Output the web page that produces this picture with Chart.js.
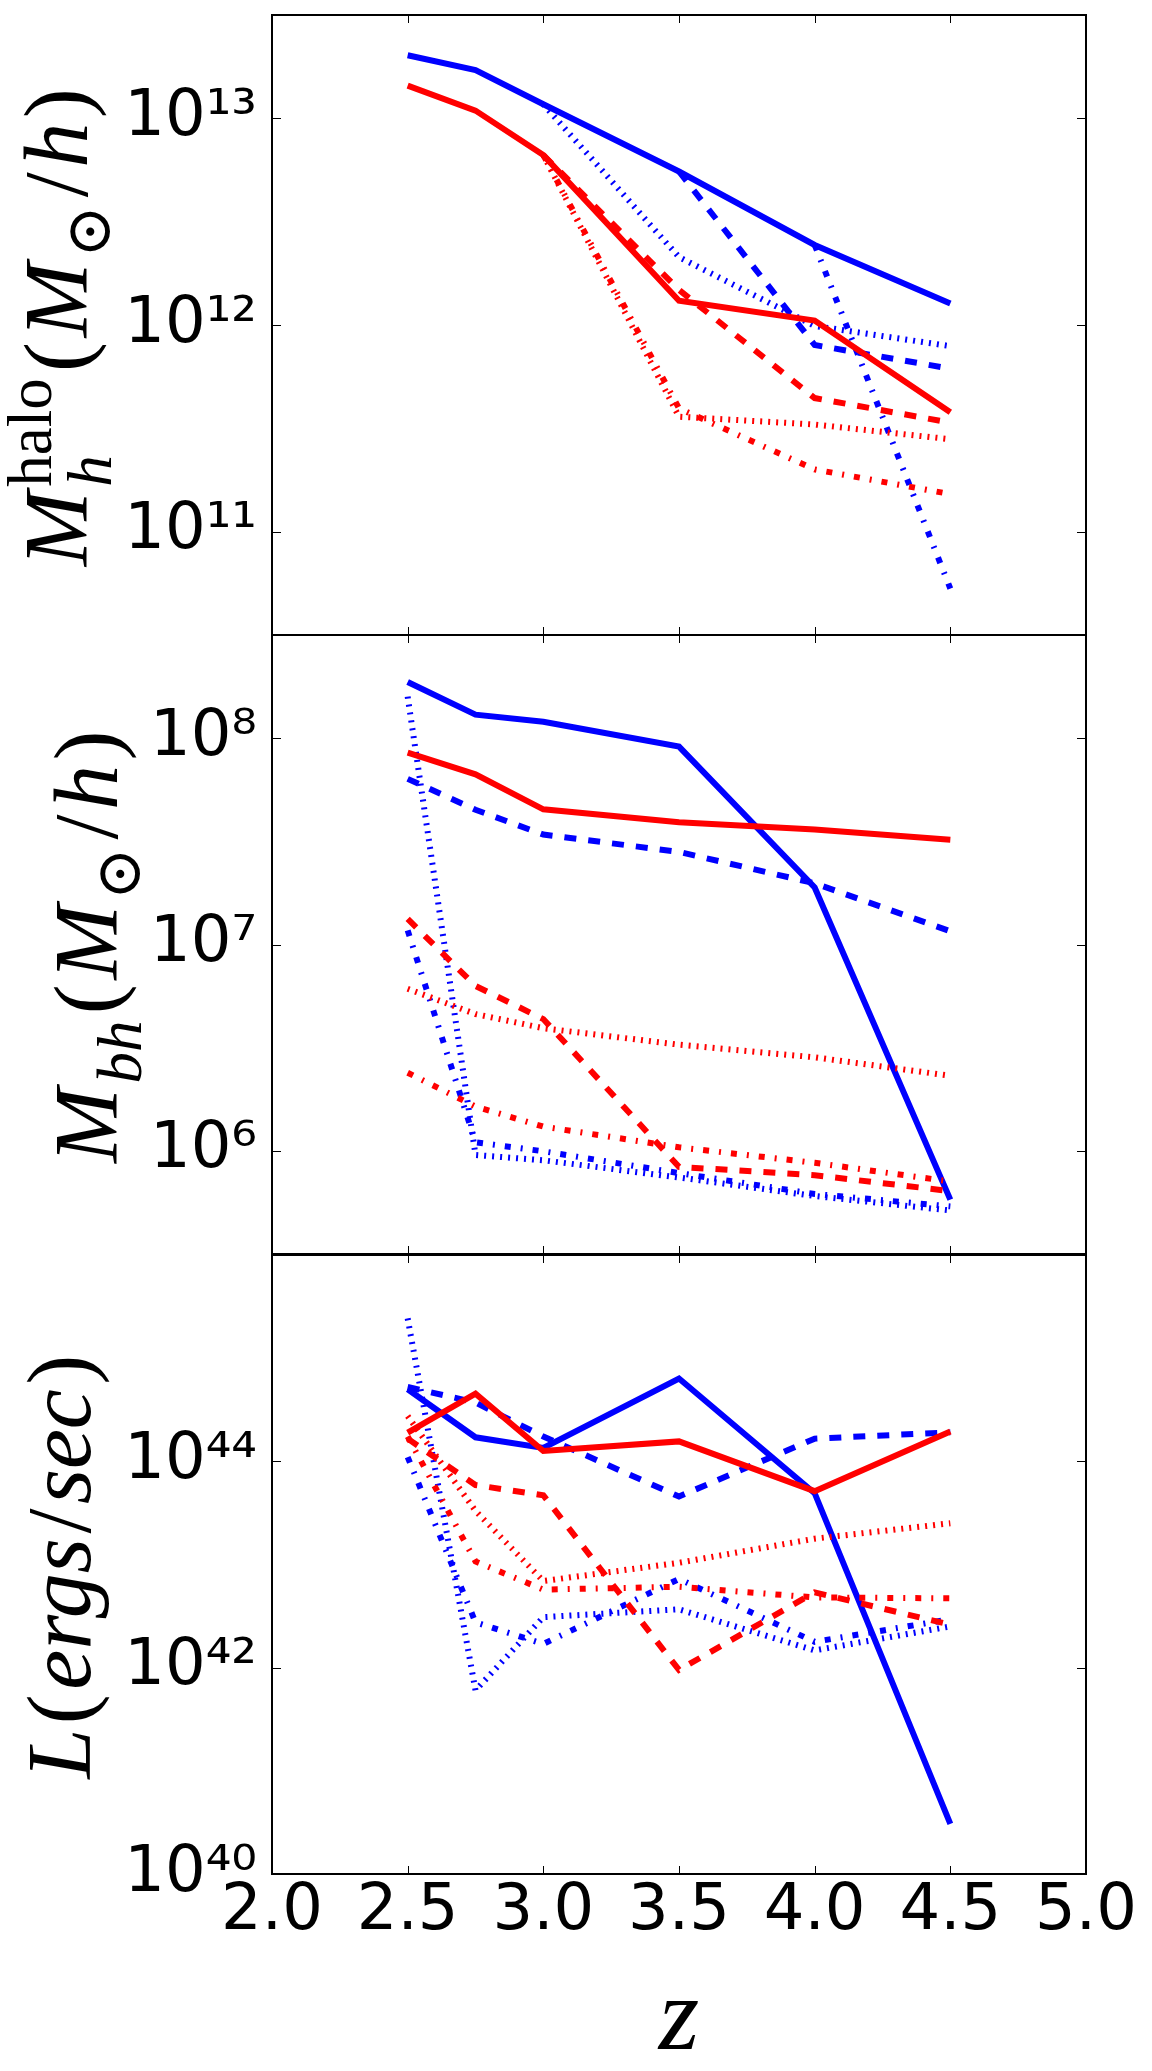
<!DOCTYPE html>
<html>
<head>
<meta charset="utf-8">
<script src="https://cdn.jsdelivr.net/npm/chart.js@4.4.0/dist/chart.umd.min.js"></script>
<style>
    body { margin: 0; background: #fff; }
    #wrap { position: relative; width: 1152px; height: 2071px; background: #fff; }
    canvas { position: absolute; left: 0; }
</style>
</head>
<body>
<div id="wrap">
    <canvas id="haloChart" width="1152" height="650" style="top:0px"></canvas>
    <canvas id="bhChart" width="1152" height="650" style="top:620px"></canvas>
    <canvas id="lumChart" width="1152" height="831" style="top:1240px"></canvas>
</div>
<script>
// redshift snapshots and x ticks
const redshifts = [2.5, 2.75, 3.0, 3.5, 4.0, 4.5];
const xTicks = [2.0, 2.5, 3.0, 3.5, 4.0, 4.5, 5.0];

// Panel 1: halo mass (Msun/h)
const haloBlueSolid   = [2.02e13, 1.71e13, 1.17e13, 5.53e12, 2.44e12, 1.27e12];
const haloBlueDashed  = [null, null, null, 5.53e12, 8.0e11, 6.15e11];
const haloBlueDotted  = [null, null, 1.17e13, 2.13e12, 9.9e11, 7.9e11];
const haloBlueDashDot = [null, null, null, null, 2.44e12, 5.3e10];
const haloRedSolid    = [1.44e13, 1.09e13, 6.64e12, 1.31e12, 1.05e12, 3.78e11];
const haloRedDashed   = [null, null, 6.64e12, 1.48e12, 4.43e11, 3.37e11];
const haloRedDotted   = [null, null, 6.64e12, 3.6e11, 3.3e11, 2.8e11];
const haloRedDashDot  = [null, null, 6.64e12, 3.95e11, 2.0e11, 1.52e11];
const haloTickValues = [1e11, 1e12, 1e13];
const haloTickLabels = ['10¹¹', '10¹²', '10¹³'];

// Panel 2: black hole mass (Msun/h)
const bhBlueSolid   = [1.87e8, 1.30e8, 1.20e8, 9.1e7, 1.89e7, 5.8e5];
const bhBlueDashed  = [6.35e7, 4.5e7, 3.41e7, 2.81e7, 1.98e7, 1.16e7];
const bhBlueDotted  = [1.59e8, 9.55e5, 9.0e5, 7.43e5, 6.04e5, 5.14e5];
const bhBlueDashDot = [1.17e7, 1.1e6, 9.95e5, 7.8e5, 6.18e5, 5.38e5];
const bhRedSolid    = [8.5e7, 6.68e7, 4.52e7, 3.91e7, 3.61e7, 3.22e7];
const bhRedDashed   = [1.33e7, 6.3e6, 4.35e6, 8.36e5, 7.62e5, 6.38e5];
const bhRedDotted   = [6.1e6, 4.6e6, 3.93e6, 3.27e6, 2.84e6, 2.31e6];
const bhRedDashDot  = [2.39e6, 1.64e6, 1.31e6, 1.04e6, 8.75e5, 7.1e5];
const bhTickValues = [1e6, 1e7, 1e8];
const bhTickLabels = ['10⁶', '10⁷', '10⁸'];

// Panel 3: luminosity (ergs/sec)
const lumBlueSolid   = [5.0e44, 1.71e44, 1.35e44, 6.35e44, 4.91e43, 3.06e40];
const lumBlueDashed  = [5.25e44, 3.72e44, 1.74e44, 4.56e43, 1.66e44, 1.91e44];
const lumBlueDotted  = [2.43e45, 6.03e41, 3.09e42, 3.68e42, 1.47e42, 2.51e42];
const lumBlueDashDot = [1.1e44, 2.75e42, 1.7e42, 7.24e42, 1.78e42, 2.95e42];
const lumRedSolid    = [1.9e44, 4.53e44, 1.26e44, 1.56e44, 5.14e43, 1.95e44];
const lumRedDashed   = [1.66e44, 5.89e43, 4.68e43, 9.5e41, 5.37e42, 2.61e42];
const lumRedDotted   = [2.75e44, 3.31e43, 6.92e42, 1.04e43, 1.78e43, 2.51e43];
const lumRedDashDot  = [1.74e44, 1.07e43, 5.71e42, 6.08e42, 4.79e42, 4.7e42];
const lumTickValues = [1e40, 1e42, 1e44];
const lumTickLabels = ['10⁴⁰', '10⁴²', '10⁴⁴'];

const BLUE = '#0000ff';
const RED = '#ff0000';
const SOLID = [];
const DASHED = [12, 12];
const DOTTED = [2, 6];
const DASHDOT = [6, 10, 2, 10];
const SANS = "'DejaVu Sans', sans-serif";
const SERIF = "'Liberation Serif', 'DejaVu Serif', serif";

// one line of the plot, points taken from the redshift list
function line(vals, color, dash) {
    return {
        data: redshifts.map((z, i) => ({ x: z, y: vals[i] })),
        borderColor: color,
        borderWidth: 6,
        borderDash: dash,
        pointRadius: 0,
        tension: 0,
        fill: false
    };
}

// all 1..9 x 10^n tick positions between lo and hi
function logTicks(lo, hi) {
    const out = [];
    for (let e = Math.floor(Math.log10(lo)); e <= Math.ceil(Math.log10(hi)); e++) {
        for (let m = 1; m <= 9; m++) {
            const v = m * Math.pow(10, e);
            if (v >= lo * 0.999999 && v <= hi * 1.000001) out.push({ value: v });
        }
    }
    return out;
}

function findTick(values, v) {
    return values.findIndex(t => Math.abs(t - v) / t < 1e-6);
}

// frame + inward ticks on all four sides, like the matplotlib axes box
function framePlugin(tickValues) {
    return {
        id: 'frameTicks',
        afterDatasetsDraw(chart) {
            const { ctx, chartArea: a } = chart;
            const x = chart.scales.x, y = chart.scales.y;
            ctx.save();
            ctx.strokeStyle = '#000';
            ctx.lineWidth = 1;
            ctx.beginPath();
            xTicks.forEach(v => {
                const px = Math.round(x.getPixelForValue(v)) + 0.5;
                ctx.moveTo(px, a.bottom); ctx.lineTo(px, a.bottom - 8);
                ctx.moveTo(px, a.top); ctx.lineTo(px, a.top + 8);
            });
            y.ticks.forEach(t => {
                const py = Math.round(y.getPixelForValue(t.value)) + 0.5;
                const len = findTick(tickValues, t.value) >= 0 ? 9 : 5;
                ctx.moveTo(a.left, py); ctx.lineTo(a.left + len, py);
                ctx.moveTo(a.right, py); ctx.lineTo(a.right - len, py);
            });
            ctx.stroke();
            ctx.lineWidth = 2;
            ctx.strokeRect(a.left, a.top, a.right - a.left, a.bottom - a.top);
            ctx.restore();
        }
    };
}

// rotated y title with sub/superscripts; each group is drawn at the same x
// item: [text, italic, scale, baseline shift (em), extra advance (em)]
function titlePlugin(parts, baseX, size) {
    return {
        id: 'mathTitle',
        afterDraw(chart) {
            const { ctx, chartArea: a } = chart;
            const font = it => (it[1] ? 'italic ' : '') + Math.round(size * it[2]) + 'px ' + SERIF;
            ctx.save();
            ctx.translate(baseX, (a.top + a.bottom) / 2);
            ctx.rotate(-Math.PI / 2);
            ctx.fillStyle = '#000';
            ctx.textBaseline = 'alphabetic';
            const adv = parts.map(g => Math.max(...g.map(it => {
                ctx.font = font(it);
                return ctx.measureText(it[0]).width + (0.05 + (it[4] || 0)) * size;
            })));
            let px = -adv.reduce((s, w) => s + w, 0) / 2;
            parts.forEach((g, i) => {
                g.forEach(it => {
                    ctx.font = font(it);
                    ctx.fillText(it[0], px, -it[3] * size);
                });
                px += adv[i];
            });
            ctx.restore();
        }
    };
}

function makePanel(id, o) {
    return new Chart(document.getElementById(id), {
        type: 'line',
        data: { datasets: o.datasets },
        options: {
            responsive: false,
            animation: false,
            devicePixelRatio: 1,
            events: [],
            layout: { padding: o.padding },
            plugins: {
                legend: { display: false },
                tooltip: { enabled: false }
            },
            scales: {
                x: {
                    type: 'linear',
                    min: 2,
                    max: 5,
                    display: o.showX,
                    afterBuildTicks: s => { s.ticks = xTicks.map(v => ({ value: v })); },
                    ticks: {
                        autoSkip: false,
                        maxRotation: 0,
                        padding: 0,
                        color: '#000',
                        font: { family: SANS, size: 64 },
                        callback: v => v.toFixed(1)
                    },
                    grid: { display: false, drawTicks: false },
                    border: { display: false },
                    title: {
                        display: o.showX,
                        text: 'z',
                        color: '#000',
                        font: { family: SERIF, style: 'italic', size: 104, lineHeight: 0.95 },
                        padding: 0
                    },
                    afterFit: s => {
                        s.paddingLeft = 0; s.paddingRight = 0;
                        if (o.showX) s.height = o.xHeight;
                    }
                },
                y: {
                    type: 'logarithmic',
                    min: o.yMin,
                    max: o.yMax,
                    afterBuildTicks: s => { s.ticks = logTicks(o.yMin, o.yMax); },
                    ticks: {
                        autoSkip: false,
                        padding: 15,
                        color: '#000',
                        font: { family: SANS, size: 64 },
                        callback: v => {
                            const k = findTick(o.tickValues, v);
                            return k >= 0 ? o.tickLabels[k] : null;
                        }
                    },
                    grid: { display: false, drawTicks: false },
                    border: { display: false },
                    afterFit: s => {
                        s.width = 272;
                        s.paddingTop = 0; s.paddingBottom = 0;
                    }
                }
            }
        },
        plugins: [framePlugin(o.tickValues), titlePlugin(o.title, o.titleX, 90)]
    });
}

// red drawn last = on top (first datasets are painted last)
makePanel('haloChart', {
    padding: { top: 15, bottom: 15, left: 0, right: 66 },
    showX: false,
    yMin: Math.pow(10, 10.5), yMax: Math.pow(10, 13.5),
    tickValues: haloTickValues, tickLabels: haloTickLabels,
    titleX: 87,
    title: [
        [['M', true, 1, 0]],
        [['h', true, 0.7, -0.27], ['halo', false, 0.7, 0.4, 0.02]],
        [['(', false, 1, 0]],
        [['M', true, 1, 0]],
        [['⊙', false, 0.7, -0.25, 0.04]],
        [['/', false, 1, 0]],
        [['h', true, 1, 0]],
        [[')', false, 1, 0]]
    ],
    datasets: [
        line(haloRedSolid, RED, SOLID),
        line(haloRedDashed, RED, DASHED),
        line(haloRedDotted, RED, DOTTED),
        line(haloRedDashDot, RED, DASHDOT),
        line(haloBlueSolid, BLUE, SOLID),
        line(haloBlueDashed, BLUE, DASHED),
        line(haloBlueDotted, BLUE, DOTTED),
        line(haloBlueDashDot, BLUE, DASHDOT)
    ]
});

makePanel('bhChart', {
    padding: { top: 15, bottom: 16, left: 0, right: 66 },
    showX: false,
    yMin: Math.pow(10, 5.5), yMax: Math.pow(10, 8.5),
    tickValues: bhTickValues, tickLabels: bhTickLabels,
    titleX: 117,
    title: [
        [['M', true, 1, 0]],
        [['bh', true, 0.7, -0.27, 0.02]],
        [['(', false, 1, 0]],
        [['M', true, 1, 0]],
        [['⊙', false, 0.7, -0.25, 0.04]],
        [['/', false, 1, 0]],
        [['h', true, 1, 0]],
        [[')', false, 1, 0]]
    ],
    datasets: [
        line(bhRedSolid, RED, SOLID),
        line(bhRedDashed, RED, DASHED),
        line(bhRedDotted, RED, DOTTED),
        line(bhRedDashDot, RED, DASHDOT),
        line(bhBlueSolid, BLUE, SOLID),
        line(bhBlueDashed, BLUE, DASHED),
        line(bhBlueDotted, BLUE, DOTTED),
        line(bhBlueDashDot, BLUE, DASHDOT)
    ]
});

makePanel('lumChart', {
    padding: { top: 15, bottom: 0, left: 0, right: 66 },
    showX: true,
    xHeight: 197,
    yMin: 1e40, yMax: 1e46,
    tickValues: lumTickValues, tickLabels: lumTickLabels,
    titleX: 90,
    title: [
        [['L', true, 1, 0]],
        [['(', false, 1, 0]],
        [['ergs', true, 1, 0]],
        [['/', false, 1, 0]],
        [['sec', true, 1, 0]],
        [[')', false, 1, 0]]
    ],
    datasets: [
        line(lumRedSolid, RED, SOLID),
        line(lumRedDashed, RED, DASHED),
        line(lumRedDotted, RED, DOTTED),
        line(lumRedDashDot, RED, DASHDOT),
        line(lumBlueSolid, BLUE, SOLID),
        line(lumBlueDashed, BLUE, DASHED),
        line(lumBlueDotted, BLUE, DOTTED),
        line(lumBlueDashDot, BLUE, DASHDOT)
    ]
});
</script>
</body>
</html>
